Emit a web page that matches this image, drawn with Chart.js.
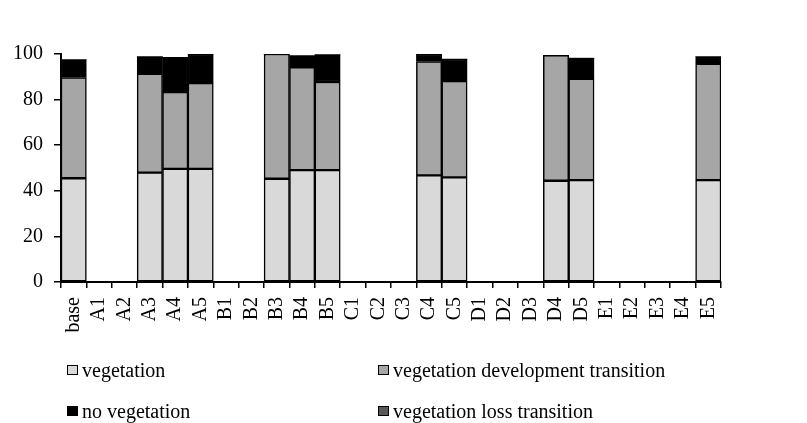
<!DOCTYPE html>
<html>
<head>
<meta charset="utf-8">
<script src="https://cdn.jsdelivr.net/npm/chart.js@4.4.1/dist/chart.umd.min.js"></script>
<style>
  html, body { margin: 0; padding: 0; background: #fff; }
  #wrap { position: relative; width: 807px; height: 423px; }
  .leg {
    position: absolute;
    height: 24px;
    line-height: 24px;
    display: flex;
    align-items: center;
    white-space: nowrap;
    font: 20px "Liberation Serif", "Times New Roman", serif;
    color: #000;
  }
  .leg .box { width: 9px; height: 8px; border: 1.5px solid #000; margin-right: 4px; }
</style>
</head>
<body>
<div id="wrap">
  <canvas id="chart" width="807" height="423"></canvas>
</div>
<script>
// categories along the x axis
const categories = ['base',
  'A1', 'A2', 'A3', 'A4', 'A5',
  'B1', 'B2', 'B3', 'B4', 'B5',
  'C1', 'C2', 'C3', 'C4', 'C5',
  'D1', 'D2', 'D3', 'D4', 'D5',
  'E1', 'E2', 'E3', 'E4', 'E5'];

// series values (percent), null = no bar
const vegetation =    [45.5, null, null, 48.0, 49.6, 49.6, null, null, 45.3, 49.1, 49.1, null, null, null, 46.8, 45.9, null, null, null, 44.4, 44.7, null, null, null, null, 44.7];
const devTransition = [44.2, null, null, 43.3, 33.7, 37.6, null, null, 54.7, 45.0, 38.6, null, null, null, 49.9, 42.2, null, null, null, 55.0, 44.4, null, null, null, null, 51.0];
const noVegetation =  [7.8,  null, null, 7.6,  15.2, 12.8, null, null, 0,    5.2,  12.0, null, null, null, 3.3,  9.7,  null, null, null, 0,    9.1,  null, null, null, null, 3.2];
const lossTransition = [0,   null, null, 0,    0,    0,    null, null, 0,    0,    0,    null, null, null, 0,    0,    null, null, null, 0,    0,    null, null, null, null, 0];

const yTicks = [0, 20, 40, 60, 80, 100];

const seriesNames = ['vegetation', 'vegetation development transition', 'no vegetation', 'vegetation loss transition'];
const seriesColors = ['#d9d9d9', '#a6a6a6', '#000000', '#595959'];

const font = { family: '"Liberation Serif", "Times New Roman", serif', size: 20 };

const datasets = [vegetation, devTransition, noVegetation, lossTransition].map((d, i) => ({
  label: seriesNames[i],
  data: d,
  backgroundColor: seriesColors[i],
  borderColor: '#000',
  // no outline on empty segments
  borderWidth: ctx => (ctx.raw ? 1.5 : 0),
  borderSkipped: false,
  categoryPercentage: 1,
  barPercentage: 1
}));

const chart = new Chart(document.getElementById('chart'), {
  type: 'bar',
  data: { labels: categories, datasets: datasets },
  options: {
    responsive: false,
    animation: false,
    layout: { padding: { left: 0, top: 54, right: 86, bottom: 81 } },
    plugins: { legend: { display: false }, tooltip: { enabled: false } },
    scales: {
      x: {
        stacked: true,
        grid: { offset: true, drawOnChartArea: false, tickLength: 6, color: '#000', lineWidth: 1.5 },
        border: { color: '#000', width: 2 },
        ticks: { color: '#000', font: font, minRotation: 90, maxRotation: 90, autoSkip: false, padding: 9 },
        afterFit: s => { s.height = 60; }
      },
      y: {
        stacked: true,
        min: yTicks[0],
        max: yTicks[yTicks.length - 1],
        grid: { drawOnChartArea: false, tickLength: 7, color: '#000', lineWidth: 1.5 },
        border: { color: '#000', width: 2 },
        ticks: { color: '#000', font: font, stepSize: 20, padding: 11 },
        afterFit: s => { s.width = 61; }
      }
    }
  }
});

// legend in two columns like the original
const legendPos = [[67, 358], [378, 358], [67, 399], [378, 399]];
const wrap = document.getElementById('wrap');
chart.data.datasets.forEach((ds, i) => {
  const item = document.createElement('div');
  item.className = 'leg';
  item.style.left = legendPos[i][0] + 'px';
  item.style.top = legendPos[i][1] + 'px';
  const box = document.createElement('span');
  box.className = 'box';
  box.style.background = ds.backgroundColor;
  item.appendChild(box);
  item.appendChild(document.createTextNode(ds.label));
  wrap.appendChild(item);
});
</script>
</body>
</html>
